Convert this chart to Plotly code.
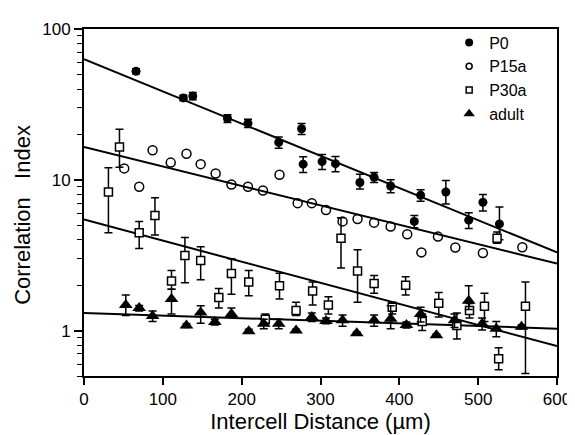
import plotly.graph_objects as go

# P0
p0_x = [66, 126, 138, 182, 208, 247, 276, 278, 302, 319, 350, 368, 389, 419, 427, 459, 488, 506, 527]
p0_y = [52.4, 34.9, 35.9, 25.5, 23.7, 17.7, 21.8, 12.7, 13.2, 12.8, 9.6, 10.4, 9.1, 5.3, 7.9, 8.3, 5.4, 7.1, 5.1]
p0_up = [2, 1.5, 2, 1.5, 1.5, 1.5, 1.8, 1.5, 1.5, 1.5, 1.3, 0.8, 0.9, 0.5, 0.7, 1.6, 0.65, 0.9, 1.5]
p0_dn = [2, 1.5, 2, 1.5, 1.5, 1.5, 1.8, 1.5, 1.5, 1.5, 0.9, 0.8, 0.9, 0.5, 0.7, 1.4, 0.65, 0.9, 1.1]

# P15a
p15_x = [51, 70, 87, 110, 130, 148, 167, 187, 208, 227, 248, 271, 289, 307, 328, 347, 368, 389, 410, 428, 449, 471, 506, 556]
p15_y = [11.9, 9.0, 15.7, 13.0, 14.9, 12.7, 11.0, 9.3, 9.0, 8.5, 10.8, 7.0, 7.0, 6.3, 5.3, 5.5, 5.2, 4.9, 4.35, 3.3, 4.2, 3.56, 3.27, 3.57]

# P30a
p30_x = [31, 45, 70, 90, 111, 128, 148, 171, 187, 209, 230, 248, 269, 290, 310, 326, 347, 368, 391, 408, 429, 450, 473, 489, 508, 524, 526, 560]
p30_y = [8.3, 16.5, 4.46, 5.8, 2.13, 3.15, 2.92, 1.66, 2.39, 2.1, 1.19, 1.98, 1.36, 1.83, 1.48, 4.1, 2.48, 2.05, 1.43, 2.0, 1.15, 1.52, 1.08, 1.36, 1.45, 4.1, 0.65, 1.45]
p30_up = [3.7, 5.1, 0.84, 1.8, 0.37, 1.0, 0.68, 0.24, 0.61, 0.4, 0.1, 0.42, 0.18, 0.27, 0.2, 1.5, 0.96, 0.27, 0.11, 0.28, 0.14, 0.27, 0.23, 0.15, 0.32, 0.4, 0.12, 0.65]
p30_dn = [3.84, 4.4, 0.96, 1.5, 0.25, 1.07, 0.75, 0.25, 0.65, 0.4, 0.1, 0.36, 0.1, 0.35, 0.19, 1.5, 0.94, 0.28, 0.14, 0.28, 0.15, 0.29, 0.2, 0.15, 0.3, 0.3, 0.1, 0.93]

# adult
ad_x = [53, 70, 87, 111, 130, 148, 166, 187, 209, 228, 247, 269, 289, 307, 328, 346, 368, 389, 409, 427, 447, 470, 488, 505, 523, 555]
ad_y = [1.48, 1.41, 1.25, 1.62, 1.08, 1.32, 1.14, 1.29, 0.99, 1.11, 1.11, 1.0, 1.23, 1.16, 1.17, 0.96, 1.17, 1.2, 1.09, 1.29, 0.93, 1.17, 1.58, 1.11, 1.03, 1.06]
ad_up = [0.24, 0.06, 0.1, 0.26, 0.03, 0.14, 0.05, 0.12, 0.03, 0.08, 0.08, 0.02, 0.08, 0.05, 0.1, 0.02, 0.1, 0.26, 0.05, 0.14, 0.02, 0.12, 0.4, 0.1, 0.12, 0.03]
ad_dn = [0.22, 0.06, 0.1, 0.33, 0.03, 0.2, 0.05, 0.05, 0.03, 0.08, 0.08, 0.02, 0.08, 0.05, 0.1, 0.02, 0.1, 0.17, 0.05, 0.15, 0.02, 0.12, 0.2, 0.1, 0.12, 0.03]

# regression lines, values at x = 0 and x = 600
fit_x = [0, 600]
fit_p0 = [63, 3.3]
fit_p15 = [16.5, 2.78]
fit_p30 = [5.45, 0.79]
fit_ad = [1.31, 1.03]

FONT = "Liberation Sans, Arial, sans-serif"

fig = go.Figure()

for fy in [fit_p0, fit_p15, fit_p30, fit_ad]:
    fig.add_trace(go.Scatter(x=fit_x, y=fy, mode='lines',
                             line=dict(color='black', width=2),
                             showlegend=False, hoverinfo='skip'))


def err(up, dn):
    return dict(type='data', symmetric=False, array=up, arrayminus=dn,
                color='black', thickness=1.5, width=4)


fig.add_trace(go.Scatter(
    x=p0_x, y=p0_y, mode='markers', showlegend=False,
    marker=dict(symbol='circle', size=9, color='black'),
    error_y=err(p0_up, p0_dn),
))
fig.add_trace(go.Scatter(
    x=p15_x, y=p15_y, mode='markers', showlegend=False,
    marker=dict(symbol='circle-open', size=9, color='black', line=dict(width=1.5)),
))
fig.add_trace(go.Scatter(
    x=p30_x, y=p30_y, mode='markers', showlegend=False,
    marker=dict(symbol='square', size=8, color='white', line=dict(width=1.5, color='black')),
    error_y=err(p30_up, p30_dn),
))
fig.add_trace(go.Scatter(
    x=ad_x, y=ad_y, mode='markers', showlegend=False,
    marker=dict(symbol='triangle-up', size=12, color='black'),
    error_y=err(ad_up, ad_dn),
))

# legend entries (smaller symbols, as in the original key)
legend_items = [
    ('P0', dict(symbol='circle', size=8, color='black')),
    ('P15a', dict(symbol='circle-open', size=6, color='black', line=dict(width=1.5))),
    ('P30a', dict(symbol='square', size=6, color='white', line=dict(width=1.5, color='black'))),
    ('adult', dict(symbol='triangle-up', size=10, color='black')),
]
for name, mk in legend_items:
    fig.add_trace(go.Scatter(x=[None], y=[None], mode='markers', name=name, marker=mk))

minor_vals = [0.5, 0.6, 0.7, 0.8, 0.9] + list(range(2, 10)) + list(range(20, 100, 10))

fig.update_layout(
    width=575, height=435,
    margin=dict(l=76, r=21, t=16, b=67),
    paper_bgcolor='white', plot_bgcolor='white',
    font=dict(family=FONT, color='black', size=17),
    showlegend=True,
    legend=dict(x=0.772, y=1.01, xanchor='left', yanchor='top',
                bgcolor='rgba(0,0,0,0)', font=dict(size=16),
                tracegroupgap=0, itemsizing='trace'),
    xaxis=dict(
        range=[0, 600], tickvals=[0, 100, 200, 300, 400, 500, 600],
        ticks='outside', ticklen=7, tickwidth=1.5, tickcolor='black',
        showline=True, linecolor='black', linewidth=2, mirror=True,
        showgrid=False, zeroline=False,
        tickfont=dict(size=17),
        title=dict(text='Intercell Distance (µm)', font=dict(size=22), standoff=5),
    ),
    yaxis=dict(
        type='log', range=[-0.301, 2],
        tickvals=[1, 10, 100], ticktext=['1', '10', '100'],
        ticks='outside', ticklen=8, tickwidth=1.5, tickcolor='black',
        minor=dict(tickvals=minor_vals, ticks='outside', ticklen=5, tickwidth=1.2, tickcolor='black'),
        showline=True, linecolor='black', linewidth=2, mirror=True,
        showgrid=False, zeroline=False,
        tickfont=dict(size=17),
    ),
    annotations=[dict(
        text='Correlation\u00a0\u00a0 Index', textangle=-90, showarrow=False,
        xref='paper', yref='paper', x=-0.13, y=0.463,
        xanchor='center', yanchor='middle', font=dict(size=22),
    )],
)

fig.write_html("out.html")
